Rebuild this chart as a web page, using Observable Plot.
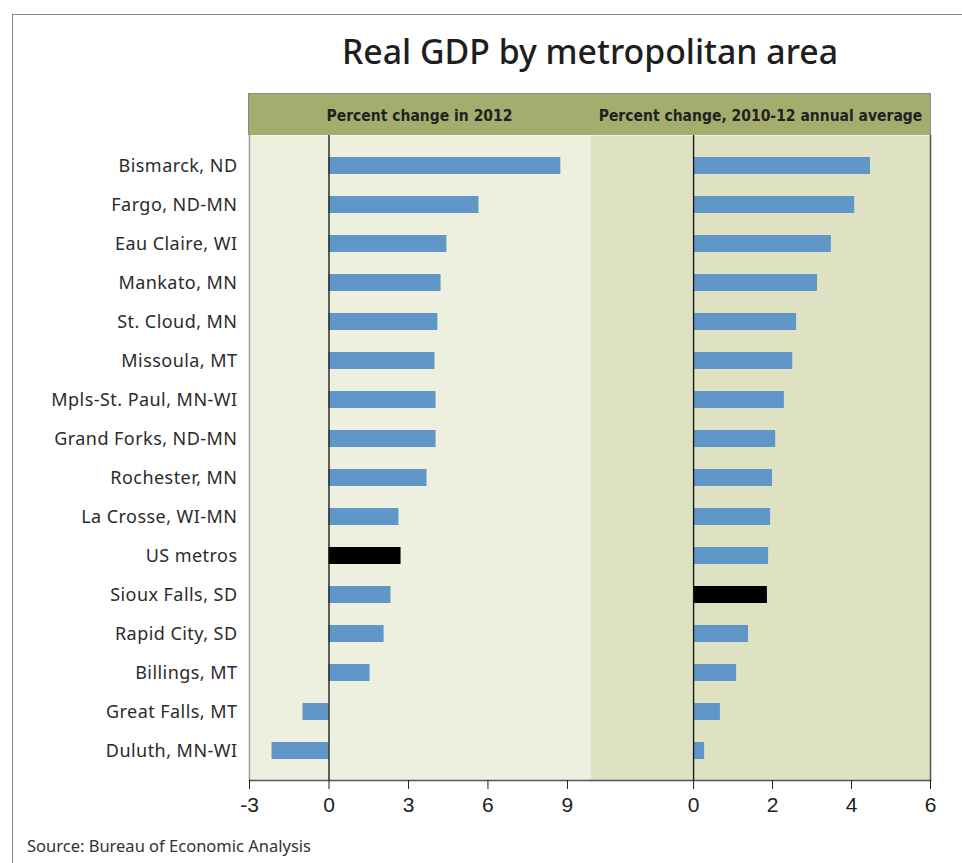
<!DOCTYPE html>
<html><head><meta charset="utf-8">
<script src="https://cdn.jsdelivr.net/npm/d3@7"></script>
<script src="https://cdn.jsdelivr.net/npm/@observablehq/plot@0.6"></script>
<style>
body{margin:0;background:#fff;}
#wrap{position:relative;width:962px;height:863px;overflow:hidden;font-family:"Noto Sans",sans-serif;color:#2b2b2b;}
#frameline{position:absolute;left:12px;top:14px;width:960px;height:900px;border-left:1.5px solid #888;border-top:1.5px solid #888;}
#title{position:absolute;left:249px;width:682px;top:31px;text-align:center;font-size:33.8px;font-weight:500;color:#1e1e1e;line-height:40px;}
#band{position:absolute;left:248px;top:93px;width:681px;height:41px;background:#a4ad6d;border:1.5px solid #8a8a8a;border-bottom:none;}
#band span{position:absolute;top:12.5px;font-family:"DejaVu Sans Condensed",sans-serif;font-size:15.5px;font-weight:bold;color:#222;white-space:nowrap;}
#h1{left:0;width:341px;text-align:center;}
#h2{left:341px;width:341px;text-align:center;}
#left{position:absolute;left:0;top:135px;}
#right{position:absolute;left:590px;top:135px;}
#source{position:absolute;left:27px;top:834px;font-size:16.5px;color:#333;}
g[aria-label="y-axis tick label"] text{letter-spacing:0.45px;}
</style></head><body>
<div id="wrap">
 <div id="frameline"></div>
 <div id="title">Real GDP by metropolitan area</div>
 <div id="band"><span id="h1">Percent change in 2012</span><span id="h2">Percent change, 2010-12 annual average</span></div>
 <div id="left"></div>
 <div id="right"></div>
 <div id="source">Source: Bureau of Economic Analysis</div>
</div>
<script>
const metros = ["Bismarck, ND","Fargo, ND-MN","Eau Claire, WI","Mankato, MN","St. Cloud, MN","Missoula, MT","Mpls-St. Paul, MN-WI","Grand Forks, ND-MN","Rochester, MN","La Crosse, WI-MN","US metros","Sioux Falls, SD","Rapid City, SD","Billings, MT","Great Falls, MT","Duluth, MN-WI"];
const change2012 = [8.75,5.66,4.45,4.23,4.11,4.0,4.04,4.04,3.7,2.64,2.72,2.34,2.08,1.55,-0.98,-2.15];
const avg2010_12 = [4.48,4.08,3.49,3.14,2.61,2.51,2.30,2.08,2.0,1.95,1.90,1.87,1.39,1.09,0.68,0.28];
const highlight2012 = "US metros";
const highlightAvg = "Sioux Falls, SD";
const ticks2012 = [-3,0,3,6,9];
const ticksAvg = [0,2,4,6];

const rows = metros.map((m,i)=>({metro:m, v2012:change2012[i], vavg:avg2010_12[i]}));
const blue = "#6196c9";
const yScale = {domain: metros, paddingInner: 0.57, paddingOuter: 0.5, label: null};
const common = {height: 690, marginTop: 0, marginBottom: 45, style:{fontFamily:'"Noto Sans",sans-serif', background:"transparent", color:"#222", overflow:"visible"}};
const fmt = d => String(d);
const tickFont = '"Liberation Sans",Arial,sans-serif';

const left = Plot.plot({
  ...common, width: 590, marginLeft: 249, marginRight: 0,
  x: {domain: [-3, 9.87], label: null},
  y: yScale,
  marks: [
    Plot.frame({fill: "#edf0de", stroke: null}),
    Plot.barX(rows.filter(d=>d.metro!==highlight2012), {x: "v2012", y: "metro", fill: blue}),
    Plot.barX(rows.filter(d=>d.metro===highlight2012), {x: "v2012", y: "metro", fill: "#000"}),
    Plot.ruleX([0], {stroke: "#111", strokeWidth: 1.3}),
    Plot.frame({anchor: "left", stroke: "#9a9a9a", strokeWidth: 1.5}),
    Plot.frame({anchor: "bottom", stroke: "#555", strokeWidth: 1.5}),
    Plot.axisX({ticks: ticks2012, tickFormat: fmt, tickSize: 9, tickPadding: 8, fontSize: 21, fontFamily: tickFont, stroke: "#222", fill: "#222", label: null}),
    Plot.axisY({tickSize: 0, tickPadding: 12, fontSize: 18, fill: "#2b2b2b", label: null})
  ]
});
document.getElementById("left").appendChild(left);

const right = Plot.plot({
  ...common, width: 372, marginLeft: 0, marginRight: 32,
  x: {domain: [-2.61, 6], label: null},
  y: yScale,
  marks: [
    Plot.frame({fill: "#dee2c3", stroke: null}),
    Plot.barX(rows.filter(d=>d.metro!==highlightAvg), {x: "vavg", y: "metro", fill: blue}),
    Plot.barX(rows.filter(d=>d.metro===highlightAvg), {x: "vavg", y: "metro", fill: "#000"}),
    Plot.ruleX([0], {stroke: "#111", strokeWidth: 1.3}),
    Plot.frame({anchor: "right", stroke: "#555", strokeWidth: 1.5}),
    Plot.frame({anchor: "bottom", stroke: "#555", strokeWidth: 1.5}),
    Plot.axisX({ticks: ticksAvg, tickFormat: fmt, tickSize: 9, tickPadding: 8, fontSize: 21, fontFamily: tickFont, stroke: "#222", fill: "#222", label: null}),
    Plot.axisY({ticks: [], label: null})
  ]
});
document.getElementById("right").appendChild(right);
</script>
</body></html>
